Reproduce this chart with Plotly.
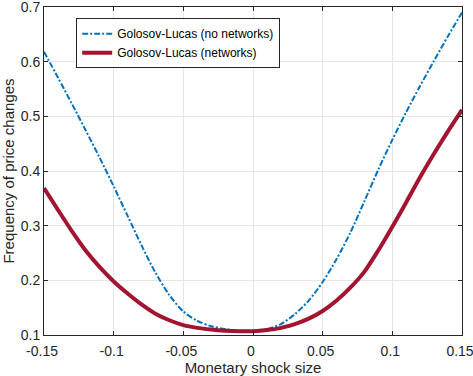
import plotly.graph_objects as go

x_shock = [-0.15, -0.14, -0.13, -0.12, -0.11, -0.10, -0.09, -0.08, -0.07, -0.06, -0.05, -0.04, -0.03,
           -0.02, -0.01, 0.0, 0.01, 0.02, 0.03, 0.04, 0.05, 0.06, 0.07, 0.08, 0.09, 0.10, 0.11, 0.12,
           0.13, 0.14, 0.15]
y_no_networks = [0.618, 0.571, 0.523, 0.474, 0.424, 0.372, 0.318, 0.264, 0.214, 0.173, 0.143, 0.126, 0.116,
                 0.111, 0.108, 0.108, 0.111, 0.120, 0.138, 0.163, 0.197, 0.239, 0.288, 0.345, 0.403, 0.457,
                 0.508, 0.556, 0.602, 0.647, 0.690]
y_networks = [0.369, 0.329, 0.290, 0.254, 0.224, 0.198, 0.176, 0.156, 0.139, 0.127, 0.118, 0.113, 0.110,
              0.108, 0.107, 0.107, 0.109, 0.113, 0.120, 0.130, 0.144, 0.163, 0.187, 0.216, 0.255, 0.298,
              0.343, 0.389, 0.432, 0.473, 0.512]

x_ticks = [-0.15, -0.1, -0.05, 0, 0.05, 0.1, 0.15]
x_labels = ["-0.15", "-0.1", "-0.05", "0", "0.05", "0.1", "0.15"]
y_ticks = [0.1, 0.2, 0.3, 0.4, 0.5, 0.6, 0.7]
y_labels = ["0.1", "0.2", "0.3", "0.4", "0.5", "0.6", "0.7"]

font = "Liberation Sans, Arial, sans-serif"

fig = go.Figure()
fig.add_trace(go.Scatter(x=x_shock, y=y_no_networks, mode="lines", name="Golosov-Lucas (no networks)",
                         line=dict(color="#0072BD", width=2, dash="6px,2px,2px,2px", shape="spline", smoothing=0.8)))
fig.add_trace(go.Scatter(x=x_shock, y=y_networks, mode="lines", name="Golosov-Lucas (networks)",
                         line=dict(color="#A2142F", width=4, shape="spline", smoothing=0.8)))

axis_common = dict(showline=True, linecolor="#262626", linewidth=1, mirror="ticks",
                   ticks="inside", ticklen=4, tickcolor="#262626",
                   showgrid=True, gridcolor="#E6E6E6", gridwidth=1, zeroline=False,
                   automargin=False,
                   tickfont=dict(family=font, size=14, color="#262626"))

fig.update_xaxes(range=[-0.15, 0.1500001], tickvals=x_ticks, ticktext=x_labels,
                 ticklabeloverflow="allow", ticklabelstandoff=3, ticklabelshift=-2,
                 title=dict(text="Monetary shock size", font=dict(family=font, size=15, color="#262626"), standoff=2),
                 **axis_common)
fig.update_yaxes(range=[0.1, 0.7000001], tickvals=y_ticks, ticktext=y_labels,
                 ticklabeloverflow="allow",
                 title=dict(text="Frequency of price changes", font=dict(family=font, size=15, color="#262626"), standoff=4),
                 **axis_common)

fig.update_layout(
    width=473, height=376,
    margin=dict(l=44, r=11, t=7, b=41),
    plot_bgcolor="white", paper_bgcolor="white",
    font=dict(family=font, color="#262626"),
    legend=dict(x=0.077, y=0.966, xanchor="left", yanchor="top",
                bgcolor="white", bordercolor="#262626", borderwidth=1,
                font=dict(family=font, size=12, color="#000000"),
                tracegroupgap=0, itemwidth=30),
)

fig.write_html("out.html")
